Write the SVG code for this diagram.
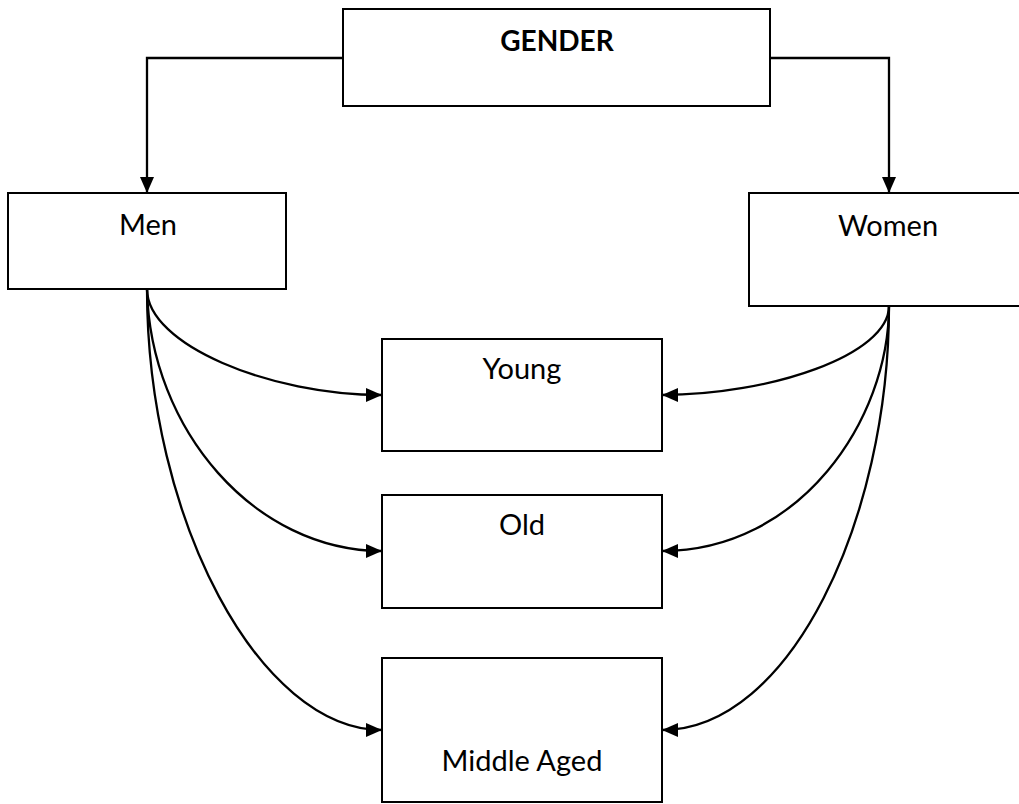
<svg xmlns="http://www.w3.org/2000/svg" width="1019" height="804" viewBox="0 0 1019 804">
  <style>
    .box { fill: #ffffff; stroke: #000000; stroke-width: 2; }
    .lbl { font-family: Lato, "Open Sans", sans-serif; font-size: 29px; fill: #000000; text-anchor: middle; }
    .bold { font-weight: bold; font-size: 28px; }
    .link { fill: none; stroke: #000000; stroke-width: 2.3; marker-end: url(#arrow); }
  </style>
  <defs>
    <marker id="arrow" markerUnits="userSpaceOnUse" markerWidth="17" markerHeight="16" refX="16" refY="8" orient="auto">
      <path d="M0,1 L16,8 L0,15 Z" fill="#000000"/>
    </marker>
  </defs>

  <rect width="1019" height="804" fill="#ffffff"/>

  <g id="connectors">
    <path class="link" d="M343,58 H147 V193"/>
    <path class="link" d="M770,58 H889 V193"/>
    <path class="link" d="M147,289 C147,345 270,395 382,395"/>
    <path class="link" d="M147,289 C150,430 255,551 382,551"/>
    <path class="link" d="M147,289 C147,520 260,730 382,730"/>
    <path class="link" d="M889,306 C889,355 770,395 662,395"/>
    <path class="link" d="M889,306 C889,420 800,551 662,551"/>
    <path class="link" d="M889,306 C889,520 790,730 662,730"/>
  </g>

  <g id="gender">
    <rect class="box" x="343" y="9" width="427" height="97"/>
    <text class="lbl bold" x="557" y="51">GENDER</text>
  </g>
  <g id="men">
    <rect class="box" x="8" y="193" width="278" height="96"/>
    <text class="lbl" x="148" y="235">Men</text>
  </g>
  <g id="women">
    <rect class="box" x="749" y="193" width="280" height="113"/>
    <text class="lbl" x="888" y="236">Women</text>
  </g>
  <g id="young">
    <rect class="box" x="382" y="339" width="280" height="112"/>
    <text class="lbl" x="522" y="379">Young</text>
  </g>
  <g id="old">
    <rect class="box" x="382" y="495" width="280" height="113"/>
    <text class="lbl" x="522" y="535">Old</text>
  </g>
  <g id="middle-aged">
    <rect class="box" x="382" y="658" width="280" height="144"/>
    <text class="lbl" x="522" y="771">Middle Aged</text>
  </g>
</svg>
